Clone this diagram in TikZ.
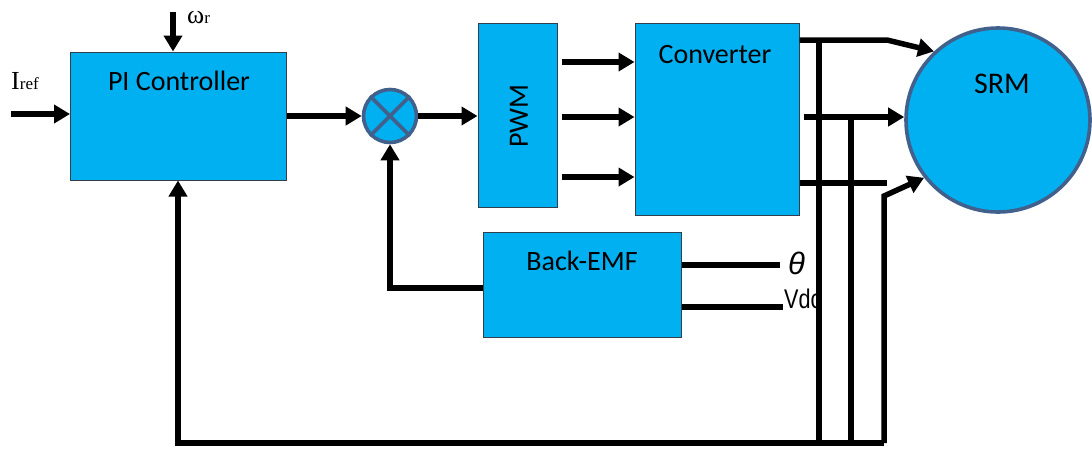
\documentclass[tikz,border=0pt]{standalone}
\usepackage{fontspec}
\setmainfont{Carlito}
\newfontfamily\timesfont{Liberation Serif}
\newfontfamily\arialfont{Liberation Sans}
\usetikzlibrary{arrows.meta,calc}
\definecolor{blockfill}{RGB}{0,176,240}
\definecolor{blockedge}{RGB}{50,62,78}
\definecolor{ringedge}{RGB}{65,97,140}
\tikzset{
  block/.style={draw=blockedge, line width=1pt, fill=blockfill, rectangle, inner sep=0pt},
  ring/.style={draw=ringedge, line width=3.6pt, fill=blockfill, circle, inner sep=0pt},
  wire/.style={line width=5.5pt, draw=black},
  sig/.style={wire, -{Triangle[length=16pt,width=18pt]}},
  txt/.style={font=\fontsize{28}{30}\selectfont, inner sep=0pt, anchor=base},
  sym/.style={inner sep=0pt, anchor=base west, font=\timesfont\fontsize{26}{28}\selectfont},
}
\newcommand{\smallsub}[1]{{\fontsize{17}{17}\selectfont #1}}
\begin{document}
\begin{tikzpicture}[x=1pt,y=-1pt]
\useasboundingbox (0,0) rectangle (1092,448);

% blocks
\node[block, minimum width=216pt, minimum height=128pt] (pi) at (178.5,116) {};
\node[block, minimum width=79pt, minimum height=184pt] (pwm) at (517.5,115) {};
\node[block, minimum width=164pt, minimum height=192pt] (conv) at (717,119) {};
\node[block, minimum width=198pt, minimum height=105pt] (bemf) at (582,284.5) {};
\node[ring, minimum size=53pt] (sum) at (390,116) {};
\node[ring, minimum size=184pt] (srm) at (998,120) {};
\draw[draw=ringedge, line width=3.8pt] (sum.45) -- (sum.225) (sum.135) -- (sum.315);

% block titles
\node[txt] at (179,90) {PI Controller};
\node[txt] at (715,63) {Converter};
\node[txt] at (582,270) {Back-EMF};
\node[txt, font=\fontsize{30}{32}\selectfont] at (1002,93) {SRM};
\node[txt, anchor=center, rotate=90] at (519,116) {PWM};

% external inputs
\node[sym] (iref) at (11,89) {I\smallsub{ref}};
\node[sym] (wr) at (187,23) {ω\smallsub{r}};
\coordinate (irefin) at (11,114);
\coordinate (wrin) at (173,12);
\draw[sig] (irefin) -- (irefin -| pi.west);
\draw[sig] (wrin) -- (wrin |- pi.north);

% forward path
\draw[sig] (pi.east |- sum.west) -- (sum.west);
\draw[sig] (sum.east) -- (sum.east -| pwm.west);
\foreach \yy in {62,117,177}{
  \draw[sig] ($(pwm.east |- 0,\yy)+(4,0)$) -- (conv.west |- 0,\yy);
}

% back-EMF estimator
\draw[sig] (bemf.west |- 0,288) -| (sum.south);
\coordinate (thetaend) at (780,265);
\coordinate (vdcend) at (783,307);
\draw[wire] (bemf.east |- thetaend) -- (thetaend);
\draw[wire] (bemf.east |- vdcend) -- (vdcend);
\node[inner sep=0pt, anchor=west, font=\arialfont\itshape\fontsize{31}{32}\selectfont] at (788,263) {θ};
\node[inner sep=0pt, anchor=base west, xscale=0.8, font=\arialfont\fontsize{27}{28}\selectfont] at (784,308) {Vdc};

% phase leads to the motor
\coordinate (pa) at (887,40);
\coordinate (pb) at (887,183);
\coordinate (pc) at (884,196);
\draw[sig] (conv.east |- pa) -- (pa) -- (srm.133);
\draw[sig] ($(conv.east |- 0,117)+(4,0)$) -- (srm.west |- 0,117);
\draw[wire] (conv.east |- pb) -- (pb);

% current feedback bus
\coordinate (ba) at (819,443);
\coordinate (bb) at (851,443);
\coordinate (bc) at (884,443);
\coordinate (bl) at (178,443);
\draw[wire] (ba) -- (ba |- pa);
\draw[wire] (bb) -- (bb |- 0,117);
\draw[sig] (bc) -- (pc) -- (srm.218);
\draw[wire] (bc) -- (bl -| 175,0);
\draw[sig] (bl) -- (bl |- pi.south);
\end{tikzpicture}
\end{document}
